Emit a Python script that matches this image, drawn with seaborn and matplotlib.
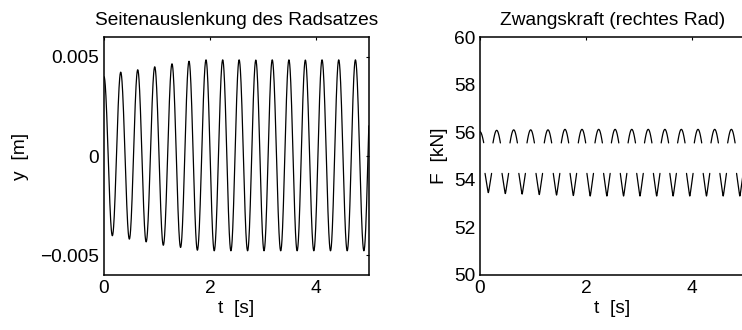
import numpy as np
import pandas as pd
import matplotlib
matplotlib.use("Agg")
import matplotlib.pyplot as plt
import seaborn as sns

# Lateral displacement of the wheelset: alternating extrema (time in s, value in m)
t_peak = [0.0, 0.315, 0.636, 0.957, 1.283, 1.604, 1.925, 2.24, 2.55, 2.865,
          3.175, 3.49, 3.80, 4.115, 4.43, 4.745, 5.06]
y_peak = [0.0040, 0.00423, 0.00435, 0.0045, 0.00465, 0.00478, 0.00485, 0.00485,
          0.00485, 0.00484, 0.00485, 0.00485, 0.00484, 0.00485, 0.00485, 0.00485, 0.00485]
t_trough = [0.157, 0.478, 0.795, 1.119, 1.445, 1.762, 2.08, 2.395, 2.71, 3.02,
            3.335, 3.645, 3.96, 4.275, 4.59, 4.905]
y_trough = [-0.00402, -0.00419, -0.00433, -0.0045, -0.00461, -0.00475, -0.00478, -0.00478,
            -0.00478, -0.00478, -0.00478, -0.00478, -0.00478, -0.00478, -0.00478, -0.00478]

# Guiding force on the right wheel: arches near the displacement peaks,
# V-shaped dips near the displacement troughs (kN)
f_arch_top = [56.02, 56.08, 56.1, 56.1, 56.1, 56.12, 56.12, 56.12, 56.12,
              56.12, 56.12, 56.12, 56.12, 56.12, 56.12, 56.12]
f_arch_edge = [55.56, 55.55, 55.55, 55.55, 55.55, 55.55, 55.55, 55.55, 55.55,
               55.55, 55.55, 55.55, 55.55, 55.55, 55.55, 55.55]
f_dip_bottom = [53.46, 53.42, 53.4, 53.38, 53.36, 53.34, 53.32, 53.32,
                53.32, 53.32, 53.32, 53.32, 53.32, 53.32, 53.32, 53.32]
f_dip_top = [54.27, 54.27, 54.27, 54.27, 54.27, 54.27, 54.27, 54.27,
             54.27, 54.27, 54.27, 54.27, 54.27, 54.27, 54.27, 54.27]

x_ticks = [0, 2, 4]
y_ticks_left = [-0.005, 0, 0.005]
y_ticklabels_left = ["\u22120.005", "0", "0.005"]
y_ticks_right = [50, 52, 54, 56, 58, 60]

# ---- build the displacement curve from half-cosine arcs between extrema
ext_t = []
ext_y = []
for i in range(len(t_trough)):
    ext_t += [t_peak[i], t_trough[i]]
    ext_y += [y_peak[i], y_trough[i]]
ext_t.append(t_peak[len(t_trough)])
ext_y.append(y_peak[len(t_trough)])

tt, yy = [], []
for a in range(len(ext_t) - 1):
    s = np.linspace(0, 1, 40, endpoint=False)
    m = 0.5 * (ext_y[a] + ext_y[a + 1])
    h = 0.5 * (ext_y[a] - ext_y[a + 1])
    tt.append(ext_t[a] + s * (ext_t[a + 1] - ext_t[a]))
    yy.append(m + h * np.cos(np.pi * s))
tt = np.concatenate(tt)
yy = np.concatenate(yy)
keep = tt <= 5.0
disp = pd.DataFrame({"t": tt[keep], "y": yy[keep]})

# ---- build the force pieces
arch_half = 0.07
dip_half = 0.062
pieces = []
seg = 0
for i, tc in enumerate(t_peak[:len(f_arch_top)]):
    s = np.linspace(-1, 1, 30)
    if i == 0:
        s = np.linspace(0, 1, 15)
    ph = 1.39
    shape = (np.cos(ph * s) - np.cos(ph)) / (1 - np.cos(ph))
    f = f_arch_edge[i] + (f_arch_top[i] - f_arch_edge[i]) * shape
    pieces.append(pd.DataFrame({"t": tc + arch_half * s, "F": f, "seg": seg}))
    seg += 1
for i, tc in enumerate(t_trough):
    s = np.linspace(-1, 1, 41)
    shape = np.sqrt(s ** 2 + 0.004) - np.sqrt(0.004)
    shape = shape / shape.max()
    f = f_dip_bottom[i] + (f_dip_top[i] - f_dip_bottom[i]) * shape
    pieces.append(pd.DataFrame({"t": tc + dip_half * s, "F": f, "seg": seg}))
    seg += 1
force = pd.concat(pieces, ignore_index=True)
force = force[(force["t"] >= 0) & (force["t"] <= 5)]

# ---- styling
sns.set_style("white")
plt.rcParams["font.family"] = ["Liberation Sans", "DejaVu Sans"]
plt.rcParams.update({
    "xtick.direction": "in", "ytick.direction": "in",
    "xtick.top": True, "ytick.right": True,
    "xtick.major.size": 2.0, "ytick.major.size": 2.0,
    "xtick.major.width": 0.8, "ytick.major.width": 0.8,
    "axes.edgecolor": "black", "axes.linewidth": 1.1,
    "xtick.color": "black", "ytick.color": "black",
    "text.color": "black", "axes.labelcolor": "black",
})
fs = 13.8

fig = plt.figure(figsize=(7.42, 3.3), dpi=100)
ax1 = fig.add_axes([0.1402, 0.1667, 0.357, 0.721])
ax2 = fig.add_axes([0.6469, 0.1667, 0.357, 0.721])

sns.lineplot(data=disp, x="t", y="y", ax=ax1, color="black", linewidth=0.9,
             estimator=None, sort=False)
ax1.set_xlim(0, 5)
ax1.set_ylim(-0.006, 0.006)
ax1.set_xticks(x_ticks)
ax1.set_xticklabels([str(v) for v in x_ticks], fontsize=fs)
ax1.set_yticks(y_ticks_left)
ax1.set_yticklabels(y_ticklabels_left, fontsize=fs)
ax1.set_xlabel("t  [s]", fontsize=fs, labelpad=2)
ax1.set_ylabel("y  [m]", fontsize=fs, labelpad=8)
ax1.set_title("Seitenauslenkung des Radsatzes", fontsize=fs, pad=9)

sns.lineplot(data=force, x="t", y="F", units="seg", ax=ax2, color="black",
             linewidth=0.9, estimator=None, sort=False)
ax2.set_xlim(0, 5)
ax2.set_ylim(50, 60)
ax2.set_xticks(x_ticks)
ax2.set_xticklabels([str(v) for v in x_ticks], fontsize=fs)
ax2.set_yticks(y_ticks_right)
ax2.set_yticklabels([str(v) for v in y_ticks_right], fontsize=fs)
ax2.set_xlabel("t  [s]", fontsize=fs, labelpad=2)
ax2.set_ylabel("F  [kN]", fontsize=fs, labelpad=4)
ax2.set_title("Zwangskraft (rechtes Rad)", fontsize=fs, pad=9)

for ax in (ax1, ax2):
    for sp in ax.spines.values():
        sp.set_visible(True)
        sp.set_color("black")

fig.savefig("out.png", dpi=100)
